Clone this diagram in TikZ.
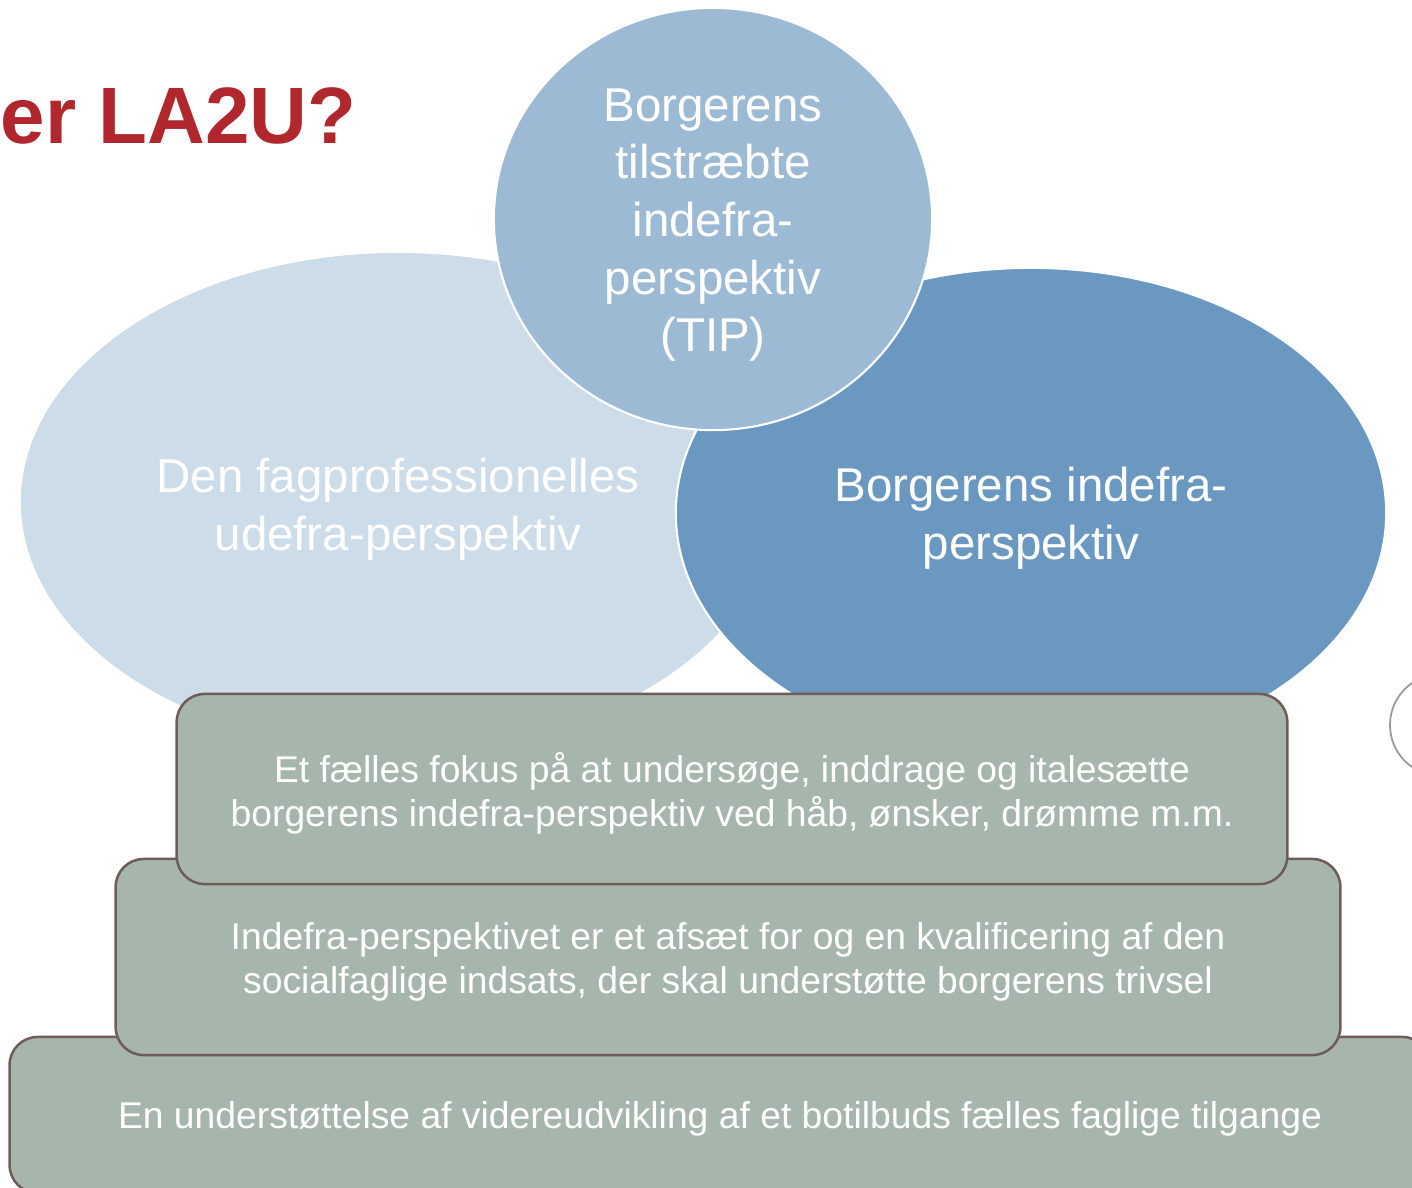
\documentclass[tikz,border=0pt]{standalone}
\usepackage{fontspec}
\setmainfont{Liberation Sans}
\usepackage{xcolor}
\usetikzlibrary{shapes.geometric}

\definecolor{palblue}{HTML}{CCDCE8}
\definecolor{midblue}{HTML}{9DBAD5}
\definecolor{deepblue}{HTML}{6B98C0}
\definecolor{sage}{HTML}{A6B6AC}
\definecolor{sageedge}{HTML}{6F5C5A}
\definecolor{titlered}{HTML}{B0282E}

\tikzset{
  bubble/.style={ellipse, draw=white, line width=0.6pt, inner sep=0pt},
  bubbletext/.style={text=white, align=center, inner sep=0pt,
    font=\fontsize{13.5}{16.4}\selectfont},
  layer/.style={rectangle, draw=sageedge, line width=0.25mm, fill=sage,
    rounded corners=0.28cm, inner sep=0pt},
  layertext/.style={text=white, align=center, inner sep=0pt,
    font=\fontsize{10.6}{12.5}\selectfont}
}

\begin{document}
\begin{tikzpicture}[x=0.01cm, y=-0.01cm]
  \useasboundingbox (0,0) rectangle (1412,1187);
  \clip (0,0) rectangle (1412,1187);

  % title, cut off at the left
  \node[anchor=base west, inner sep=0pt, text=titlered,
        font=\fontsize{22.75}{26}\selectfont\bfseries] (title) at (0,143) {er LA2U?};

  % the three perspectives
  \node[bubble, fill=palblue, minimum width=7.56cm, minimum height=5cm] (udefra) at (398,502) {};
  \node[bubble, fill=deepblue, minimum width=7.1cm, minimum height=4.9cm] (indefra) at (1031,513) {};
  \node[bubble, fill=midblue, minimum width=4.38cm, minimum height=4.22cm] (tip) at (713,219) {};
  \node[bubbletext] (udefra-txt) at ([yshift=-0.07cm]udefra.center)
    {Den fagprofessionelles\\udefra-perspektiv};
  \node[bubbletext] (indefra-txt) at ([yshift=-0.05cm]indefra.center)
    {Borgerens indefra-\\perspektiv};
  \node[bubbletext] (tip-txt) at ([yshift=-0.06cm]tip.center)
    {Borgerens\\tilstræbte\\indefra-\\perspektiv\\(TIP)};

  % grey ring at the right edge
  \node[circle, draw=gray!80, line width=0.5pt, minimum size=1.02cm, inner sep=0pt] (rest) at (1441,725) {};

  % the layers, bottom first
  \node[layer, minimum width=14.2cm, minimum height=1.56cm] (tilgange) at (720,1115) {};
  \node[layertext] (tilgange-txt) at ([yshift=-0.04cm]tilgange.center)
    {En understøttelse af videreudvikling af et botilbuds fælles faglige tilgange};
  \node[layer, minimum width=12.24cm, minimum height=1.96cm] (afsaet) at (728,957) {};
  \node[layertext] (afsaet-txt) at ([yshift=-0.05cm]afsaet.center)
    {Indefra-perspektivet er et afsæt for og en kvalificering af den\\socialfaglige indsats, der skal understøtte borgerens trivsel};
  \node[layer, minimum width=11.1cm, minimum height=1.9cm] (fokus) at (732,789) {};
  \node[layertext] (fokus-txt) at ([yshift=-0.04cm]fokus.center)
    {Et fælles fokus på at undersøge, inddrage og italesætte\\borgerens indefra-perspektiv ved håb, ønsker, drømme m.m.};
\end{tikzpicture}
\end{document}
